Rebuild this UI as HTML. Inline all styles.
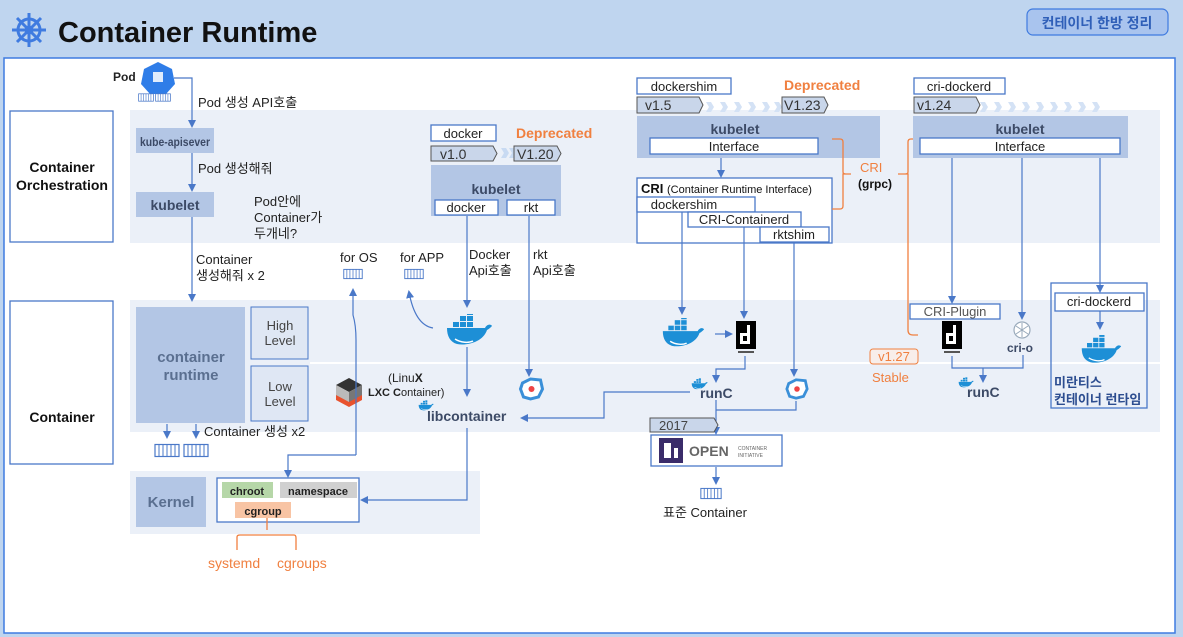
<!DOCTYPE html>
<html><head><meta charset="utf-8"><style>
html,body{margin:0;padding:0;background:#bfd5ef;}
svg{display:block;font-family:"Liberation Sans","Noto Sans CJK KR",sans-serif;}
.t{font-size:13px;fill:#222;}
.b{font-weight:bold;}
.ln{stroke:#4a78c8;stroke-width:1.2;fill:none;}
.or{stroke:#f08040;stroke-width:1.3;fill:none;}
.bx{fill:#b3c6e5;}
.wb{fill:#fff;stroke:#4a78c8;stroke-width:1.3;}
</style></head><body>
<svg width="1183" height="637" viewBox="0 0 1183 637" xmlns="http://www.w3.org/2000/svg">
<defs>
<marker id="a" markerWidth="8" markerHeight="8" refX="6" refY="4" orient="auto" markerUnits="userSpaceOnUse"><path d="M0,0 L8,4 L0,8z" fill="#4a78c8"/></marker>
<symbol id="whale" viewBox="0 0 48 32"><rect x="8" y="8" width="6" height="5" fill="#1d8fd6"/><rect x="15" y="8" width="6" height="5" fill="#1d8fd6"/><rect x="22" y="8" width="6" height="5" fill="#1d8fd6"/><rect x="15" y="2" width="6" height="5" fill="#1d8fd6"/><rect x="22" y="2" width="6" height="5" fill="#1d8fd6"/><rect x="22" y="-4" width="6" height="5" fill="#1d8fd6"/><path d="M2,14 L40,14 C42,10 46,10 47,12 C45,14 44,15 42,16 C38,28 22,32 12,30 C5,28 2,22 2,14z" fill="#1d8fd6"/><path d="M10,25 C16,29 24,29 28,27" stroke="#fff" stroke-width="1.5" fill="none"/></symbol>
<symbol id="cont" viewBox="0 0 26 14"><rect x="1" y="1" width="24" height="12" fill="#fff" stroke="#4a78c8" stroke-width="1.2"/><path d="M5,1V13M9,1V13M13,1V13M17,1V13M21,1V13" stroke="#4a78c8" stroke-width="1"/></symbol>
<symbol id="ctd" viewBox="0 0 20 34"><rect x="0" y="0" width="20" height="28" fill="#000"/><rect x="4" y="12" width="10" height="11" fill="#fff"/><rect x="7" y="15" width="4" height="5" fill="#000"/><rect x="11" y="4" width="3" height="8" fill="#fff"/><rect x="2" y="30" width="16" height="2" fill="#555"/></symbol>
<symbol id="rkt" viewBox="0 0 26 24"><path d="M4,6 L12,2 L22,3 L24,12 L20,20 L12,22 L5,20 L2,12z" fill="#fff" stroke="#3a8fd8" stroke-width="3"/><circle cx="13" cy="12" r="3" fill="#e44"/></symbol>
</defs>
<rect width="1183" height="637" fill="#bfd5ef"/>
<rect x="4" y="58" width="1171" height="575" fill="#fff" stroke="#3f7be0" stroke-width="1.5"/>
<g transform="translate(29,30)" stroke="#3f7be0" stroke-width="3" fill="none"><circle r="11"/><circle r="3" fill="#3f7be0"/><path d="M0,-17V17M-17,0H17M-12,-12L12,12M12,-12L-12,12"/></g>
<text x="58" y="42" style="font-size:29px;font-weight:bold;fill:#111">Container Runtime</text>
<rect x="1027" y="9" width="141" height="26" rx="6" fill="#a9c4ee" stroke="#3f7be0" stroke-width="1.2"/>
<text x="1097" y="28" text-anchor="middle" class="b" style="font-size:14px;fill:#2f5fb8">컨테이너 한방 정리</text>
<rect x="130" y="110" width="1030" height="133" fill="#ebf0f8"/>
<rect x="130" y="300" width="1030" height="132" fill="#ebf0f8"/>
<line x1="310" y1="363" x2="1160" y2="363" stroke="#fff" stroke-width="2"/>
<rect x="130" y="471" width="350" height="63" fill="#ebf0f8"/>
<rect x="10" y="111" width="103" height="131" class="wb"/>
<text x="62" y="172" text-anchor="middle" class="b" style="font-size:14px;fill:#111">Container</text>
<text x="62" y="190" text-anchor="middle" class="b" style="font-size:14px;fill:#111" textLength="92" lengthAdjust="spacingAndGlyphs">Orchestration</text>
<rect x="10" y="301" width="103" height="163" class="wb"/>
<text x="62" y="422" text-anchor="middle" class="b" style="font-size:14px;fill:#111">Container</text>
<text x="113" y="81" class="t b" style="font-size:12px">Pod</text>
<path d="M158,62 L172,69 L175,84 L166,94 L150,94 L141,84 L144,69z" fill="#2f7de8"/>
<rect x="153" y="72" width="10" height="10" fill="#fff" opacity=".85"/>
<use href="#cont" x="138" y="92" width="16" height="11"/><use href="#cont" x="155" y="92" width="16" height="11"/>
<path class="ln" d="M174,78H192V126" marker-end="url(#a)"/>
<text x="198" y="107" class="t">Pod 생성 API호출</text>
<rect x="136" y="128" width="78" height="25" class="bx"/>
<text x="175" y="146" text-anchor="middle" class="b" style="font-size:12px;fill:#3c4a66" textLength="70" lengthAdjust="spacingAndGlyphs">kube-apisever</text>
<text x="198" y="173" class="t">Pod 생성해줘</text>
<path class="ln" d="M192,153V190" marker-end="url(#a)"/>
<rect x="136" y="192" width="78" height="25" class="bx"/>
<text x="175" y="210" text-anchor="middle" class="b" style="font-size:14px;fill:#3c4a66">kubelet</text>
<text x="254" y="206" class="t">Pod안에</text><text x="254" y="222" class="t">Container가</text><text x="254" y="238" class="t">두개네?</text>
<path class="ln" d="M192,217V300" marker-end="url(#a)"/>
<text x="196" y="264" class="t">Container</text><text x="196" y="280" class="t">생성해줘 x 2</text>
<rect x="136" y="307" width="109" height="116" class="bx"/>
<text x="191" y="362" text-anchor="middle" class="b" style="font-size:15px;fill:#5a6f90">container</text>
<text x="191" y="380" text-anchor="middle" class="b" style="font-size:15px;fill:#5a6f90">runtime</text>
<rect x="251" y="307" width="57" height="52" fill="#dfe7f4" stroke="#4a78c8"/>
<text x="280" y="330" text-anchor="middle" style="font-size:13px;fill:#444">High</text><text x="280" y="345" text-anchor="middle" style="font-size:13px;fill:#444">Level</text>
<rect x="251" y="366" width="57" height="55" fill="#dfe7f4" stroke="#4a78c8"/>
<text x="280" y="391" text-anchor="middle" style="font-size:13px;fill:#444">Low</text><text x="280" y="406" text-anchor="middle" style="font-size:13px;fill:#444">Level</text>
<path class="ln" d="M167,424V437" marker-end="url(#a)"/><path class="ln" d="M196,424V437" marker-end="url(#a)"/>
<use href="#cont" x="154" y="443" width="26" height="15"/><use href="#cont" x="183" y="443" width="26" height="15"/>
<text x="204" y="436" class="t">Container 생성 x2</text>
<rect x="136" y="477" width="70" height="50" class="bx"/>
<text x="171" y="507" text-anchor="middle" class="b" style="font-size:15px;fill:#5a6f90">Kernel</text>
<rect x="217" y="478" width="142" height="44" class="wb"/>
<rect x="222" y="482" width="51" height="16" fill="#b6d7a8"/><text x="247" y="495" text-anchor="middle" class="b" style="font-size:11px;fill:#222">chroot</text>
<rect x="280" y="482" width="77" height="16" fill="#d0d0d0"/><text x="318" y="495" text-anchor="middle" class="b" style="font-size:11px;fill:#222">namespace</text>
<rect x="235" y="502" width="56" height="16" fill="#f8c4a4"/><text x="263" y="515" text-anchor="middle" class="b" style="font-size:11px;fill:#222">cgroup</text>
<path class="or" d="M267,518V530M237,550V537Q237,535 240,535H294Q296,535 296,538V550"/>
<text x="208" y="568" style="font-size:14px;fill:#f08040">systemd</text><text x="277" y="568" style="font-size:14px;fill:#f08040">cgroups</text>
<g transform="translate(336,378)"><path d="M13,0 L26,7 L13,14 L0,7z" fill="#333"/><path d="M0,7 L13,14 L13,27 L0,20z" fill="#bbb"/><path d="M26,7 L13,14 L13,27 L26,20z" fill="#777"/><path d="M0,17 L13,24 L26,17 L26,22 L13,29 L0,22z" fill="#e8522e"/></g>
<text x="388" y="382" style="font-size:12px;fill:#222">(Linu<tspan font-weight="bold">X</tspan></text>
<text x="368" y="396" style="font-size:11px;fill:#222"><tspan font-weight="bold">LXC C</tspan>ontainer)</text>
<path class="ln" d="M356,455 V340 Q356,325 353,315 V290" marker-end="url(#a)"/>
<path class="ln" d="M356,455 H288 V476" marker-end="url(#a)"/>
<text x="340" y="262" class="t">for OS</text><use href="#cont" x="343" y="267" width="20" height="14"/>
<text x="400" y="262" class="t">for APP</text><use href="#cont" x="404" y="267" width="20" height="14"/>
<path class="ln" d="M433,328 Q415,325 409,292" marker-end="url(#a)"/>
<rect x="431" y="125" width="65" height="16" class="wb"/><text x="463" y="138" text-anchor="middle" class="t">docker</text>
<text x="516" y="138" class="b" style="font-size:14px;fill:#f08040">Deprecated</text>
<path d="M431,146H493L497,153.5L493,161H431z" fill="#c9d6ea" stroke="#555"/><text x="440" y="159" style="font-size:14px;fill:#333">v1.0</text>
<path d="M501,148l5,0l3,5l-3,5h-5l3,-5zM509,148l5,0l3,5l-3,5h-5l3,-5z" fill="#c8daf2"/>
<path d="M514,146H557L561,153.5L557,161H514z" fill="#c9d6ea" stroke="#555"/><text x="517" y="159" style="font-size:14px;fill:#333">V1.20</text>
<rect x="431" y="165" width="130" height="51" class="bx"/>
<text x="496" y="194" text-anchor="middle" class="b" style="font-size:14px;fill:#3c4a66">kubelet</text>
<rect x="435" y="200" width="63" height="15" class="wb"/><text x="466" y="212" text-anchor="middle" class="t">docker</text>
<rect x="507" y="200" width="48" height="15" class="wb"/><text x="531" y="212" text-anchor="middle" class="t">rkt</text>
<text x="469" y="259" class="t">Docker</text><text x="469" y="275" class="t">Api호출</text>
<text x="533" y="259" class="t">rkt</text><text x="533" y="275" class="t">Api호출</text>
<path class="ln" d="M467,216V306" marker-end="url(#a)"/>
<use href="#whale" x="445" y="314" width="48" height="32"/>
<path class="ln" d="M467,347V395" marker-end="url(#a)"/>
<path class="ln" d="M529,216V375" marker-end="url(#a)"/>
<use href="#rkt" x="518" y="377" width="27" height="24"/>
<use href="#whale" x="418" y="400" width="16" height="11"/>
<text x="427" y="421" class="b" style="font-size:14px;fill:#3c4a66">libcontainer</text>
<path class="ln" d="M467,428V500H362" marker-end="url(#a)"/>
<path class="ln" d="M690,392H604V418H522" marker-end="url(#a)"/>
<rect x="637" y="78" width="94" height="16" class="wb"/><text x="684" y="91" text-anchor="middle" class="t">dockershim</text>
<text x="784" y="90" class="b" style="font-size:14px;fill:#f08040">Deprecated</text>
<path d="M637,97H699L703,105L699,113H637z" fill="#c9d6ea" stroke="#555"/><text x="645" y="110" style="font-size:14px;fill:#333">v1.5</text>
<g fill="#d4e2f5"><path d="M706,102h5l3,5l-3,5h-5l3,-5z"/><path d="M720,102h5l3,5l-3,5h-5l3,-5z"/><path d="M734,102h5l3,5l-3,5h-5l3,-5z"/><path d="M748,102h5l3,5l-3,5h-5l3,-5z"/><path d="M762,102h5l3,5l-3,5h-5l3,-5z"/><path d="M774,102h5l3,5l-3,5h-5l3,-5z"/>
<path d="M994,102h5l3,5l-3,5h-5l3,-5z"/><path d="M1008,102h5l3,5l-3,5h-5l3,-5z"/><path d="M1022,102h5l3,5l-3,5h-5l3,-5z"/><path d="M1036,102h5l3,5l-3,5h-5l3,-5z"/><path d="M1050,102h5l3,5l-3,5h-5l3,-5z"/><path d="M1064,102h5l3,5l-3,5h-5l3,-5z"/><path d="M1078,102h5l3,5l-3,5h-5l3,-5z"/><path d="M1092,102h5l3,5l-3,5h-5l3,-5z"/><path d="M980,102h5l3,5l-3,5h-5l3,-5z"/></g>
<path d="M782,97H824L828,105L824,113H782z" fill="#c9d6ea" stroke="#555"/><text x="784" y="110" style="font-size:14px;fill:#333">V1.23</text>
<rect x="637" y="116" width="243" height="42" class="bx"/>
<text x="735" y="134" text-anchor="middle" class="b" style="font-size:14px;fill:#3c4a66">kubelet</text>
<rect x="650" y="138" width="168" height="16" class="wb"/><text x="734" y="151" text-anchor="middle" class="t">Interface</text>
<path class="ln" d="M721,158V176" marker-end="url(#a)"/>
<rect x="637" y="178" width="195" height="65" fill="#fff" stroke="#4a78c8" stroke-width="1.3"/>
<text x="641" y="193" style="font-size:13px;font-weight:bold;fill:#111">CRI <tspan style="font-size:11px;font-weight:normal">(Container Runtime Interface)</tspan></text>
<rect x="637" y="197" width="118" height="15" class="wb"/><text x="684" y="209" text-anchor="middle" class="t">dockershim</text>
<rect x="688" y="212" width="113" height="15" class="wb"/><text x="744" y="224" text-anchor="middle" class="t">CRI-Containerd</text>
<rect x="760" y="227" width="69" height="15" class="wb"/><text x="794" y="239" text-anchor="middle" class="t">rktshim</text>
<path class="or" d="M832,139H840Q843,139 843,142V172Q843,174 846,174H851M846,174H843V206Q843,209 840,209H832"/>
<text x="860" y="172" style="font-size:13px;fill:#f08040">CRI</text>
<text x="858" y="188" class="b" style="font-size:12px;fill:#111">(grpc)</text>
<path class="or" d="M917,139H911Q908,139 908,142V172Q908,174 905,174H898M905,174H908V330Q908,335 913,335H918"/>
<path class="ln" d="M682,212V313" marker-end="url(#a)"/>
<use href="#whale" x="661" y="318" width="44" height="30"/>
<path class="ln" d="M715,334H731" marker-end="url(#a)"/>
<path class="ln" d="M744,227V317" marker-end="url(#a)"/>
<use href="#ctd" x="736" y="321" width="20" height="34"/>
<path class="ln" d="M745,356V369H716V381" marker-end="url(#a)"/>
<use href="#whale" x="691" y="378" width="17" height="12"/>
<text x="700" y="398" class="b" style="font-size:14px;fill:#3c4a66">runC</text>
<path class="ln" d="M794,242V375" marker-end="url(#a)"/>
<use href="#rkt" x="785" y="377" width="24" height="24"/>
<path class="ln" d="M796,401V410H716"/>
<path class="ln" d="M716,400V433" marker-end="url(#a)"/>
<path d="M650,418H714L718,425L714,432H650z" fill="#c9d6ea" stroke="#555"/><text x="659" y="430" style="font-size:13px;fill:#444">2017</text>
<rect x="651" y="435" width="131" height="31" fill="#fff" stroke="#4a78c8" stroke-width="1.3"/>
<rect x="659" y="438" width="24" height="25" fill="#3a2c6a"/><rect x="664" y="443" width="7" height="15" fill="#fff"/><rect x="674" y="448" width="4" height="10" fill="#fff"/>
<text x="689" y="456" class="b" style="font-size:14px;fill:#666">OPEN</text>
<text x="738" y="450" style="font-size:5px;fill:#666">CONTAINER</text><text x="738" y="457" style="font-size:5px;fill:#666">INITIATIVE</text>
<path class="ln" d="M716,467V483" marker-end="url(#a)"/>
<use href="#cont" x="700" y="487" width="22" height="13"/>
<text x="663" y="517" style="font-size:13px;fill:#222">표준 Container</text>
<rect x="914" y="78" width="91" height="16" class="wb"/><text x="959" y="91" text-anchor="middle" class="t">cri-dockerd</text>
<path d="M914,97H976L980,105L976,113H914z" fill="#c9d6ea" stroke="#555"/><text x="917" y="110" style="font-size:14px;fill:#333">v1.24</text>
<rect x="913" y="116" width="215" height="42" class="bx"/>
<text x="1020" y="134" text-anchor="middle" class="b" style="font-size:14px;fill:#3c4a66">kubelet</text>
<rect x="920" y="138" width="200" height="16" class="wb"/><text x="1020" y="151" text-anchor="middle" class="t">Interface</text>
<path class="ln" d="M952,158V302" marker-end="url(#a)"/>
<rect x="910" y="304" width="90" height="15" class="wb"/><text x="955" y="316" text-anchor="middle" style="font-size:13px;fill:#555">CRI-Plugin</text>
<use href="#ctd" x="942" y="321" width="20" height="34"/>
<path class="ln" d="M1022,158V318" marker-end="url(#a)"/>
<circle cx="1022" cy="330" r="8" fill="#fff" stroke="#9ab" stroke-width="1.2"/><path d="M1022,323V337M1016,326L1028,334M1028,326L1016,334" stroke="#9ab"/>
<text x="1007" y="352" class="b" style="font-size:12px;fill:#3c4a66">cri-o</text>
<path class="ln" d="M952,356V368H1023V355M983,368V381" marker-end="url(#a)"/>
<use href="#whale" x="958" y="377" width="16" height="11"/>
<text x="967" y="397" class="b" style="font-size:14px;fill:#3c4a66">runC</text>
<rect x="870" y="349" width="48" height="15" rx="3" fill="#f8eeea" stroke="#f08040"/><text x="894" y="361" text-anchor="middle" style="font-size:13px;fill:#f08040">v1.27</text>
<text x="872" y="382" style="font-size:13px;fill:#f08040">Stable</text>
<rect x="1051" y="283" width="96" height="125" fill="none" stroke="#4a78c8" stroke-width="1.3"/>
<path class="ln" d="M1100,158V291" marker-end="url(#a)"/>
<rect x="1055" y="293" width="89" height="18" class="wb"/><text x="1099" y="306" text-anchor="middle" class="t">cri-dockerd</text>
<path class="ln" d="M1100,311V328" marker-end="url(#a)"/>
<use href="#whale" x="1080" y="335" width="42" height="30"/>
<text x="1054" y="387" class="b" style="font-size:13px;fill:#2c4d90">미란티스</text>
<text x="1054" y="404" class="b" style="font-size:13px;fill:#2c4d90">컨테이너 런타임</text>
</svg>
</body></html>
